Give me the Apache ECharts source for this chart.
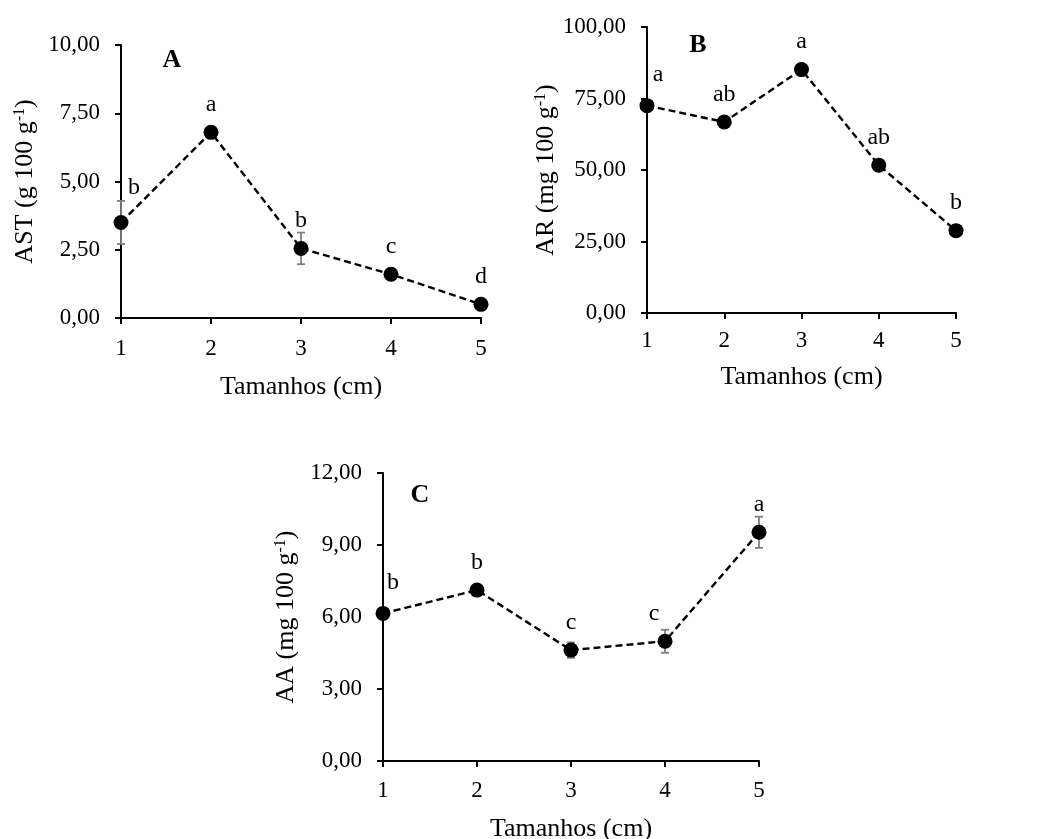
<!DOCTYPE html>
<html>
<head>
<meta charset="utf-8">
<script src="https://cdn.jsdelivr.net/npm/echarts@6/dist/echarts.min.js"></script>
<style>
  html, body { margin: 0; padding: 0; background: #fff; }
  #chart { width: 1043px; height: 839px; }
</style>
</head>
<body>
<div id="chart"></div>
<script>
// data
var sizes = [1, 2, 3, 4, 5];

var astValues = [3.5, 6.8, 2.55, 1.6, 0.5];
var astErrors = [0.79, 0, 0.58, 0, 0];
var astLetters = ['b', 'a', 'b', 'c', 'd'];
var astAxis = { max: 10, interval: 2.5 };

var arValues = [72.5, 66.8, 85.1, 51.7, 28.8];
var arErrors = [0, 0, 0, 0, 0];
var arLetters = ['a', 'ab', 'a', 'ab', 'b'];
var arAxis = { max: 100, interval: 25 };

var aaValues = [6.15, 7.12, 4.62, 4.99, 9.53];
var aaErrors = [0, 0, 0.32, 0.48, 0.65];
var aaLetters = ['b', 'b', 'c', 'c', 'a'];
var aaAxis = { max: 12, interval: 3 };

var FONT = '"Liberation Serif", "Times New Roman", serif';

var panels = [
  { tag: 'A', unit: 'AST (g 100 g', values: astValues, errors: astErrors, letters: astLetters, axis: astAxis,
    grid: { left: 121, top: 45, width: 360, height: 273 }, tagPos: [172, 60],
    yGap: 83, xGap: 56, xMargin: 19,
    shift: { 0: [13, -7] } },
  { tag: 'B', unit: 'AR (mg 100 g', values: arValues, errors: arErrors, letters: arLetters, axis: arAxis,
    grid: { left: 647, top: 27, width: 309, height: 286 }, tagPos: [698, 45],
    yGap: 79, xGap: 51, xMargin: 16,
    shift: { 0: [11, -3] } },
  { tag: 'C', unit: 'AA (mg 100 g', values: aaValues, errors: aaErrors, letters: aaLetters, axis: aaAxis,
    grid: { left: 383, top: 473, width: 376, height: 288 }, tagPos: [420, 495],
    yGap: 84, xGap: 55, xMargin: 18,
    shift: { 0: [10, -3], 3: [-11, 0] } }
];

var grids = [], xAxes = [], yAxes = [], series = [], graphics = [];

panels.forEach(function (p, i) {
  grids.push(Object.assign({ outerBoundsMode: 'none', containLabel: false }, p.grid));
  xAxes.push({
    type: 'value', gridIndex: i, min: 1, max: 5, interval: 1,
    name: 'Tamanhos (cm)', nameLocation: 'middle', nameGap: p.xGap,
    nameTextStyle: { fontFamily: FONT, fontSize: 26, color: '#000' },
    axisLine: { show: true, lineStyle: { color: '#000', width: 2 } },
    axisTick: { show: true, length: 6, lineStyle: { color: '#000', width: 2 } },
    axisLabel: { fontFamily: FONT, fontSize: 23, color: '#000', margin: p.xMargin },
    splitLine: { show: false }
  });
  yAxes.push({
    type: 'value', gridIndex: i, min: 0, max: p.axis.max, interval: p.axis.interval,
    name: '{n|' + p.unit + '}{s|-1}{n|)}', nameLocation: 'middle', nameGap: p.yGap,
    nameTextStyle: {
      fontFamily: FONT, color: '#000',
      rich: {
        n: { fontFamily: FONT, fontSize: 26, color: '#000' },
        s: { fontFamily: FONT, fontSize: 16, color: '#000', verticalAlign: 'top', padding: [0, 0, 10, 0] }
      }
    },
    axisLine: { show: true, lineStyle: { color: '#000', width: 2 } },
    axisTick: { show: true, length: 6, lineStyle: { color: '#000', width: 2 } },
    axisLabel: {
      fontFamily: FONT, fontSize: 23, color: '#000', margin: 21,
      formatter: function (v) { return v.toFixed(2).replace('.', ','); }
    },
    splitLine: { show: false }
  });

  // error bars
  series.push({
    type: 'custom', xAxisIndex: i, yAxisIndex: i, z: 1,
    data: sizes.map(function (s, k) { return [s, p.values[k], p.errors[k]]; }),
    renderItem: function (params, api) {
      var e = api.value(2);
      if (!e) return null;
      var hi = api.coord([api.value(0), api.value(1) + e]);
      var lo = api.coord([api.value(0), api.value(1) - e]);
      var w = 4;
      var st = { stroke: '#7f7f7f', lineWidth: 1.8 };
      return {
        type: 'group',
        children: [
          { type: 'line', shape: { x1: hi[0], y1: hi[1], x2: lo[0], y2: lo[1] }, style: st },
          { type: 'line', shape: { x1: hi[0] - w, y1: hi[1], x2: hi[0] + w, y2: hi[1] }, style: st },
          { type: 'line', shape: { x1: lo[0] - w, y1: lo[1], x2: lo[0] + w, y2: lo[1] }, style: st }
        ]
      };
    }
  });

  series.push({
    type: 'line', xAxisIndex: i, yAxisIndex: i, z: 3,
    symbol: 'circle', symbolSize: 15,
    itemStyle: { color: '#000' },
    lineStyle: { color: '#000', width: 2.4, type: [7, 4] },
    data: sizes.map(function (s, k) {
      var item = { value: [s, p.values[k]] };
      if (p.shift[k]) item.label = { offset: p.shift[k] };
      return item;
    }),
    label: {
      show: true, position: 'top', distance: 8,
      fontFamily: FONT, fontSize: 24, color: '#000',
      formatter: function (d) { return p.letters[d.dataIndex]; }
    }
  });

  graphics.push({
    type: 'text', x: p.tagPos[0], y: p.tagPos[1],
    style: { text: p.tag, font: 'bold 26px ' + FONT, fill: '#000', textAlign: 'center', textVerticalAlign: 'middle' }
  });
});

var chart = echarts.init(document.getElementById('chart'));
chart.setOption({
  animation: false,
  backgroundColor: '#fff',
  grid: grids,
  xAxis: xAxes,
  yAxis: yAxes,
  series: series,
  graphic: graphics
});
</script>
</body>
</html>
